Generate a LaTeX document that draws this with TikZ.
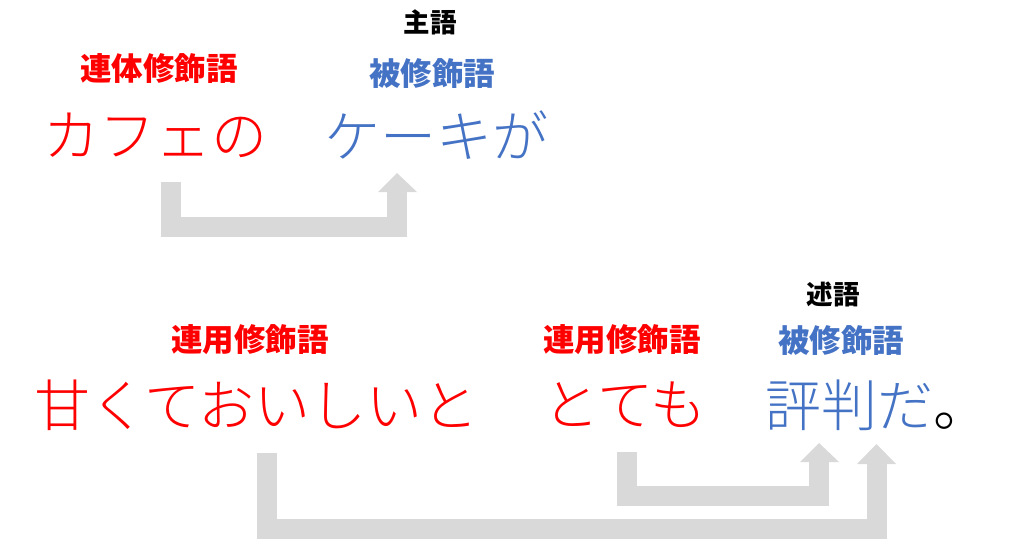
\documentclass[tikz,border=0pt]{standalone}
\usepackage{fontspec}
\newfontfamily\jp{Noto Sans CJK JP}
\IfFontExistsTF{Noto Sans CJK JP Light}{\newfontfamily\jplight{Noto Sans CJK JP Light}}{\newfontfamily\jplight{Noto Sans CJK JP}}
\definecolor{jred}{HTML}{FF0000}
\definecolor{jblue}{HTML}{4472C4}
\definecolor{arrowgray}{HTML}{D9D9D9}
\tikzset{
  word/.style={inner sep=0pt, anchor=west, font=\jplight\fontsize{56}{60}\selectfont},
  lab/.style={inner sep=0pt, font=\jp\bfseries\fontsize{31.5}{33}\selectfont},
  role/.style={inner sep=0pt, text=black, font=\jp\bfseries\fontsize{26.5}{28}\selectfont},
  shaft/.style={draw=arrowgray, line width=20pt, line cap=butt, line join=miter},
  head/.style={fill=arrowgray, draw=none},
}
\begin{document}
\begin{tikzpicture}[x=1pt,y=-1pt]
\useasboundingbox (0,0) rectangle (1024,539);
% arrows (drawn first, behind text)
\coordinate (a1s) at (171,182);
\coordinate (a1e) at (397,190);
\draw[shaft] (a1s) |- (397,227) -- (a1e);
\fill[head] (378,192) -- (417,192) -- (397,173) -- cycle;
\coordinate (a2s) at (627,452);
\coordinate (a2e) at (819,460);
\draw[shaft] (a2s) |- (819,496) -- (a2e);
\fill[head] (800,462) -- (839,462) -- (819,443) -- cycle;
\coordinate (a3s) at (267,453);
\coordinate (a3e) at (876.5,462);
\draw[shaft] (a3s) |- (876.5,529) -- (a3e);
\fill[head] (857,464) -- (896,464) -- (876.5,444) -- cycle;
% main words
\node[word, text=jred] (kafe) at (43,135) {カフェの};
\node[word, text=jblue] (cake) at (324,135) {ケーキが};
\node[word, text=jred] (amaku) at (34,405) {甘くておいしいと};
\node[word, text=jred] (totemo) at (543,405) {とても};
\node[word, text=jblue] (hyoban) at (765,405) {評判だ\textcolor{black}{。}};
% labels
\node[role] (shugo) at (430,22) {主語};
\node[lab, text=jred] (rentai) at (159,69) {連体修飾語};
\node[lab, text=jblue] (hi1) at (432,74) {被修飾語};
\node[role] (jutsugo) at (833,294) {述語};
\node[lab, text=jred] (renyo1) at (250,340) {連用修飾語};
\node[lab, text=jred] (renyo2) at (622,340) {連用修飾語};
\node[lab, text=jblue] (hi2) at (841,341) {被修飾語};
\end{tikzpicture}
\end{document}
